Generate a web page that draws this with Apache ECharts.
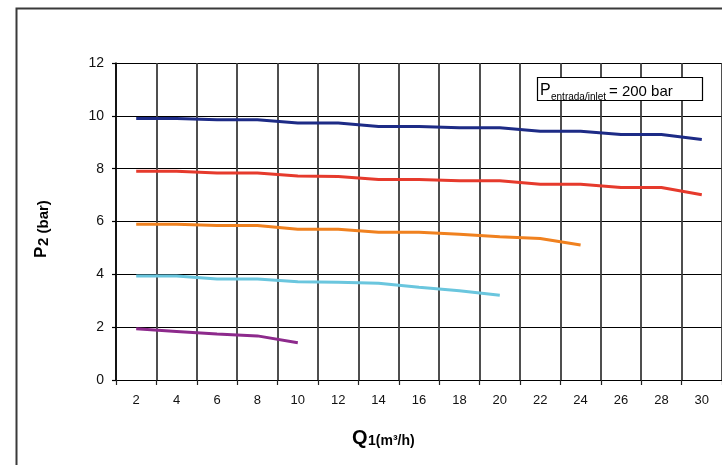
<!DOCTYPE html>
<html>
<head>
<meta charset="utf-8">
<title>P2 vs Q1</title>
<script src="https://cdn.jsdelivr.net/npm/echarts@6/dist/echarts.min.js"></script>
<style>
  html, body { margin: 0; padding: 0; background: #ffffff; }
  #chart { width: 722px; height: 465px; }
</style>
</head>
<body>
<div id="chart"></div>
<script>
// Flow rate categories Q1 (m³/h)
const flowCategories = ['2', '4', '6', '8', '10', '12', '14', '16', '18', '20', '22', '24', '26', '28', '30'];

// Outlet pressure P2 (bar) for each regulator setting, inlet at 200 bar
const outlet10 = [9.9, 9.9, 9.85, 9.85, 9.73, 9.73, 9.6, 9.6, 9.55, 9.55, 9.42, 9.42, 9.29, 9.29, 9.1];
const outlet8  = [7.9, 7.9, 7.84, 7.84, 7.72, 7.7, 7.59, 7.59, 7.54, 7.54, 7.41, 7.41, 7.29, 7.29, 7.01];
const outlet6  = [5.9, 5.9, 5.85, 5.85, 5.71, 5.71, 5.59, 5.59, 5.52, 5.42, 5.36, 5.11];
const outlet4  = [3.94, 3.94, 3.82, 3.82, 3.72, 3.7, 3.66, 3.51, 3.38, 3.21];
const outlet2  = [1.94, 1.84, 1.74, 1.67, 1.41];

// Pressure axis range
const yMin = 0, yMax = 12, yStep = 2;

const seriesDefs = [
  { name: '10 bar', data: outlet10, color: '#1d2b86' },
  { name: '8 bar',  data: outlet8,  color: '#e63a2c' },
  { name: '6 bar',  data: outlet6,  color: '#f0811f' },
  { name: '4 bar',  data: outlet4,  color: '#6ac6de' },
  { name: '2 bar',  data: outlet2,  color: '#8d2a8c' }
];

const chart = echarts.init(document.getElementById('chart'), null, { renderer: 'canvas' });

const font = 'Liberation Sans, Arial, sans-serif';

chart.setOption({
  backgroundColor: '#ffffff',
  animation: false,
  grid: { left: 116, right: -3, top: 63, bottom: 85, containLabel: false },
  xAxis: {
    type: 'category',
    data: flowCategories,
    boundaryGap: true,
    axisLine: { show: true, lineStyle: { color: '#000', width: 1.2 } },
    axisTick: { show: true, length: 5, inside: false, lineStyle: { color: '#222', width: 1.2 } },
    axisLabel: { margin: 14, color: '#111', fontFamily: font, fontSize: 13 },
    splitLine: { show: true, lineStyle: { color: '#3c3c3c', width: 1.8 } }
  },
  yAxis: {
    type: 'value',
    min: yMin, max: yMax, interval: yStep,
    axisLine: { show: true, lineStyle: { color: '#000', width: 1.5 } },
    axisTick: { show: true, length: 4, lineStyle: { color: '#000', width: 1.2 } },
    axisLabel: { margin: 12, color: '#111', fontFamily: font, fontSize: 14 },
    splitLine: { show: true, lineStyle: { color: '#000', width: 1.2 } }
  },
  series: seriesDefs.map(s => ({
    type: 'line',
    name: s.name,
    data: s.data,
    showSymbol: false,
    smooth: false,
    lineStyle: { color: s.color, width: 3 },
    itemStyle: { color: s.color },
    z: 5
  })),
  graphic: [
    // outer frame of the chart area
    {
      type: 'rect', silent: true, z: 0,
      shape: { x: 16.5, y: 8.5, width: 900, height: 900 },
      style: { fill: null, stroke: '#3a3a3a', lineWidth: 2 }
    },
    // inlet pressure note
    {
      type: 'rect', silent: true, z: 10,
      shape: { x: 537.5, y: 77.5, width: 165, height: 23 },
      style: { fill: '#fff', stroke: '#000', lineWidth: 1.2 }
    },
    {
      type: 'text', silent: true, z: 11, x: 540, y: 99,
      style: { text: 'P', font: '16px ' + font, fill: '#000', verticalAlign: 'bottom' }
    },
    {
      type: 'text', silent: true, z: 11, x: 551, y: 102,
      style: { text: 'entrada/inlet', font: '10px ' + font, fill: '#000', verticalAlign: 'bottom' }
    },
    {
      type: 'text', silent: true, z: 11, x: 609, y: 99,
      style: { text: '= 200 bar', font: '15px ' + font, fill: '#000', verticalAlign: 'bottom' }
    },
    // x axis title
    {
      type: 'text', silent: true, x: 352, y: 448,
      style: { text: 'Q', font: 'bold 20px ' + font, fill: '#000', verticalAlign: 'bottom' }
    },
    {
      type: 'text', silent: true, x: 368, y: 448,
      style: { text: '1(m³/h)', font: 'bold 14px ' + font, fill: '#000', verticalAlign: 'bottom' }
    },
    // y axis title, rotated to read upwards
    {
      type: 'group', silent: true, x: 47, y: 258, rotation: Math.PI / 2,
      children: [
        {
          type: 'text', x: 0, y: 3,
          style: { text: 'P', font: 'bold 17px ' + font, fill: '#000', verticalAlign: 'bottom' }
        },
        {
          type: 'text', x: 12, y: 4,
          style: { text: '2 (bar)', font: 'bold 15px ' + font, fill: '#000', verticalAlign: 'bottom' }
        }
      ]
    }
  ]
});
</script>
</body>
</html>
